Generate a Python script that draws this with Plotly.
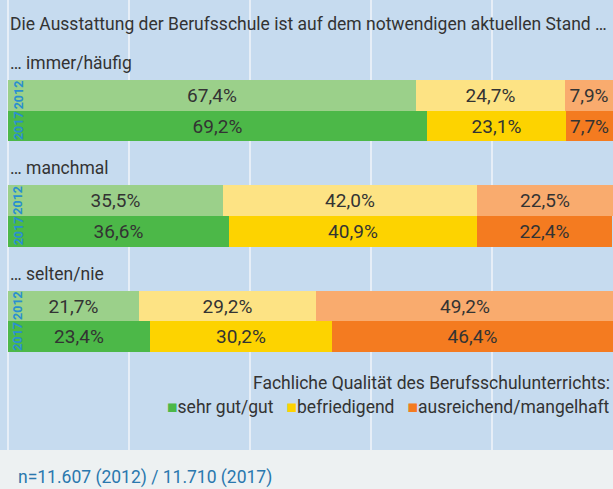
import plotly.graph_objects as go

# ---------------- data ----------------
groups = ["… immer/häufig", "… manchmal", "… selten/nie"]
years = ["2012", "2017"]
categories = ["sehr gut/gut", "befriedigend", "ausreichend/mangelhaft"]

# values per category, order: group0-2012, group0-2017, group1-2012, ...
sehr_gut = [67.4, 69.2, 35.5, 36.6, 21.7, 23.4]
befriedigend = [24.7, 23.1, 42.0, 40.9, 29.2, 30.2]
ausreichend = [7.9, 7.7, 22.5, 22.4, 49.2, 46.4]

title_text = "Die Ausstattung der Berufsschule ist auf dem notwendigen aktuellen Stand …"
legend_title = "Fachliche Qualität des Berufsschulunterrichts:"
footnote = "n=11.607 (2012) / 11.710 (2017)"
x_ticks = [0, 20, 40, 60, 80, 100]

# ---------------- styling ----------------
FONT = "Liberation Sans Narrow, Roboto, sans-serif"
FS = 17.5
TXT = "#333333"
BLUE_BG = "#c6dbef"
GREY_BG = "#edf1f2"
GRID = "#e6eef7"
colors = {
    "sehr gut/gut": ["#9bd08a", "#4cb848"],
    "befriedigend": ["#fde384", "#fdd300"],
    "ausreichend/mangelhaft": ["#f9ab6e", "#f47b20"],
}
series = {"sehr gut/gut": sehr_gut, "befriedigend": befriedigend,
          "ausreichend/mangelhaft": ausreichend}

W, H = 613, 489
PLOT_H = 450  # blue area height in px (y axis in px units)
GROUP_TOP0 = 80
GROUP_STEP = 105.3
BAR_H = 30.7

ys, row_year = [], []
for g in range(len(groups)):
    for j, yr in enumerate(years):
        ys.append(GROUP_TOP0 + g * GROUP_STEP + (j + 0.5) * BAR_H)
        row_year.append(j)


def fmt(v):
    return f"{v:.1f}".replace(".", ",") + "%"


fig = go.Figure()
for cat in categories:
    vals = series[cat]
    fig.add_trace(go.Bar(
        x=vals, y=ys, orientation="h", width=BAR_H,
        marker=dict(color=[colors[cat][j] for j in row_year], line=dict(width=0)),
        text=[fmt(v) for v in vals], textposition="inside",
        insidetextanchor="middle", textangle=0, constraintext="none",
        textfont=dict(family=FONT, size=19, color=TXT),
        showlegend=False, hoverinfo="skip",
    ))

annotations = []
# title
annotations.append(dict(x=0, y=24, xref="x", yref="y", text=title_text,
                        showarrow=False, xanchor="left", yanchor="middle",
                        font=dict(family=FONT, size=FS, color=TXT)))
# group labels
for g, lab in enumerate(groups):
    annotations.append(dict(x=0, y=GROUP_TOP0 + g * GROUP_STEP - 17, xref="x", yref="y",
                            text=lab, showarrow=False, xanchor="left", yanchor="middle",
                            font=dict(family=FONT, size=FS, color=TXT)))
# year labels
for y, j in zip(ys, row_year):
    annotations.append(dict(x=(18 - 8) / 6.05, y=y, xref="x", yref="y", text=f"<b>{years[j]}</b>",
                            textangle=-90, showarrow=False, xanchor="center", yanchor="middle",
                            font=dict(family=FONT, size=12.5, color="#2a8fd0")))
# legend title and items
annotations.append(dict(x=0.998, y=383, xref="paper", yref="y", text=legend_title,
                        showarrow=False, xanchor="right", yanchor="middle",
                        font=dict(family=FONT, size=FS, color=TXT)))
legend_html = "   ".join(
    f"<span style='color:{colors[c][1]}'>■</span>{c}" for c in categories)
annotations.append(dict(x=0.998, y=407, xref="paper", yref="y", text=legend_html,
                        showarrow=False, xanchor="right", yanchor="middle",
                        font=dict(family=FONT, size=FS, color=TXT)))
# footnote
annotations.append(dict(x=(16 - 8) / 605, y=-(477 - PLOT_H) / PLOT_H, xref="paper", yref="paper",
                        text=footnote, showarrow=False, xanchor="left", yanchor="middle",
                        font=dict(family=FONT, size=FS, color="#2a78ae")))

shapes = [dict(type="rect", xref="paper", yref="paper", x0=-0.05, x1=1.05,
               y0=-1, y1=0, fillcolor=GREY_BG, line=dict(width=0), layer="above")]

fig.update_layout(
    width=W, height=H,
    margin=dict(l=8, r=0, t=0, b=H - PLOT_H, pad=0),
    paper_bgcolor=BLUE_BG, plot_bgcolor="rgba(0,0,0,0)",
    barmode="stack", bargap=0,
    xaxis=dict(range=[0, 100], tickvals=x_ticks, showticklabels=False, showgrid=True,
               gridcolor=GRID, gridwidth=1.6, zeroline=True, zerolinecolor=GRID,
               zerolinewidth=1.6, showline=False, fixedrange=True),
    yaxis=dict(range=[PLOT_H, 0], showticklabels=False, showgrid=False, zeroline=False,
               showline=False, fixedrange=True),
    annotations=annotations, shapes=shapes, showlegend=False,
    font=dict(family=FONT, color=TXT),
)

fig.write_html("out.html")
